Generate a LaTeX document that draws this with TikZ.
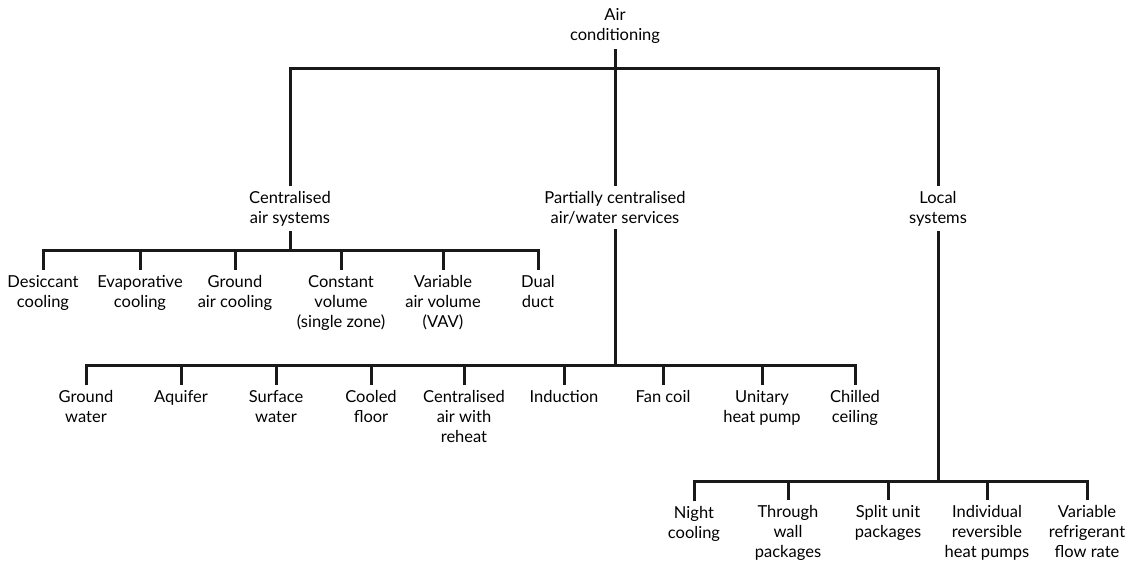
\documentclass[tikz,border=0pt]{standalone}
\usepackage{fontspec}
\setmainfont{Lato}
\usepackage{tikz}
\usetikzlibrary{positioning, calc}
\tikzset{
	item/.style ={align=center, inner sep=0pt, anchor=north, font=\fontsize{16.5}{20}\selectfont},
	link/.style ={line width=3pt, black!90, shorten <=5pt, shorten >=5pt},
}
\begin{document}
\begin{tikzpicture}[x=1pt, y=-1pt]
	\useasboundingbox (0,0) rectangle (1140,560);
	% top level
	\node[item] (ac) at (615,8) {Air\\ conditioning};
	\node[item] (cent) at (290,191) {Centralised\\ air systems};
	\node[item] (part) at (615,191) {Partially centralised\\ air/water services};
	\node[item] (loc) at (938,191) {Local\\ systems};
	\coordinate (acbar) at (615,68);
	\draw[link] (cent.north) |- (acbar) -| (loc.north);
	\draw[link, shorten <=6pt] (ac.south) -- (part.north);
	% centralised air systems
	\node[item] (desic) at (43,275) {Desiccant\\ cooling};
	\node[item] (evap) at (140,275) {Evaporative\\ cooling};
	\node[item] (gair) at (235,275) {Ground\\ air cooling};
	\node[item] (cvol) at (341,275) {Constant\\ volume\\ (single zone)};
	\node[item] (vav) at (443,275) {Variable\\ air volume\\ (VAV)};
	\node[item] (dual) at (538,275) {Dual\\ duct};
	\coordinate (cbar) at (290,250);
	\draw[link, shorten >=0pt] (cent.south) -- (cbar);
	\draw[link] (desic.north) |- (cbar) -| (dual.north);
	\foreach \n in {evap, gair, cvol, vav}
		\draw[link, shorten >=0pt] (\n.north) -- (\n.north |- cbar);
	% partially centralised air/water services
	\node[item] (gw) at (86,390) {Ground\\ water};
	\node[item] (aqu) at (181,390) {Aquifer};
	\node[item] (surf) at (276,390) {Surface\\ water};
	\node[item] (cfl) at (371,390) {Cooled\\ floor};
	\node[item] (car) at (464,390) {Centralised\\ air with\\ reheat};
	\node[item] (ind) at (564,390) {Induction};
	\node[item] (fan) at (663,390) {Fan coil};
	\node[item] (uhp) at (762,390) {Unitary\\ heat pump};
	\node[item] (chc) at (855,390) {Chilled\\ ceiling};
	\coordinate (pbar) at (615,365);
	\draw[link, shorten >=0pt] (part.south) -- (pbar);
	\draw[link] (gw.north) |- (pbar) -| (chc.north);
	\foreach \n in {aqu, surf, cfl, car, ind, fan, uhp}
		\draw[link, shorten >=0pt] (\n.north) -- (\n.north |- pbar);
	% local systems
	\node[item] (night) at (694,506) {Night\\ cooling};
	\node[item] (twall) at (788,505) {Through\\ wall\\ packages};
	\node[item] (split) at (888,505) {Split unit\\ packages};
	\node[item] (indiv) at (987,505) {Individual\\ reversible\\ heat pumps};
	\node[item] (vrf) at (1087,505) {Variable\\ refrigerant\\ flow rate};
	\coordinate (lbar) at (938,481);
	\draw[link, shorten >=0pt] (loc.south) -- (lbar);
	\draw[link] (night.north) |- (lbar) -| (vrf.north);
	\foreach \n in {twall, split, indiv}
		\draw[link, shorten >=0pt] (\n.north) -- (\n.north |- lbar);
\end{tikzpicture}
\end{document}
